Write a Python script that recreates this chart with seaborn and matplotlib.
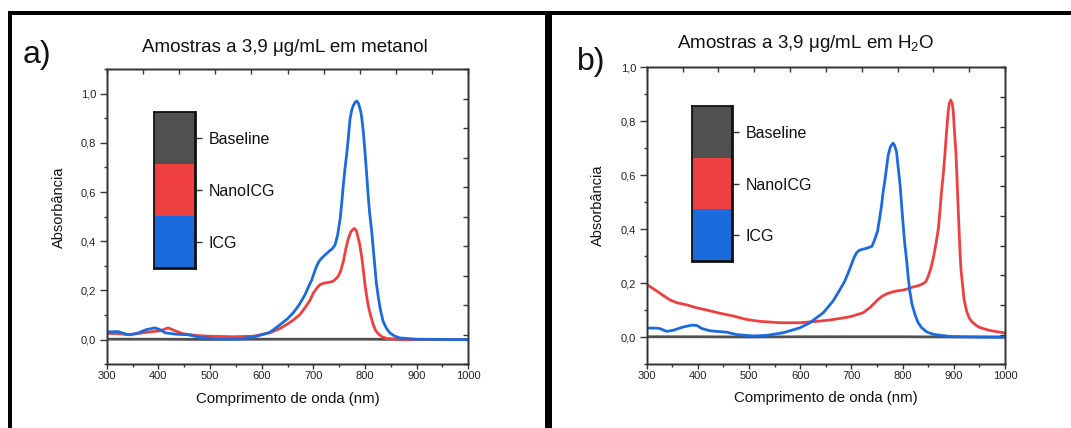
import numpy as np
import pandas as pd
import matplotlib
matplotlib.use("Agg")
import matplotlib.pyplot as plt
from matplotlib.ticker import MultipleLocator, FuncFormatter, FixedLocator, NullFormatter
from matplotlib.patches import Rectangle
import seaborn as sns

# ---------------------------------------------------------------- data
SERIES = ["Baseline", "NanoICG", "ICG"]
COLORS = {"Baseline": "#505050", "NanoICG": "#EE4040", "ICG": "#1B6BDE"}

# baseline (solvent) reading, essentially flat at zero
base_wl = [300, 400, 500, 600, 700, 800, 900, 1000]
base_a = [0.002, 0.002, 0.001, 0.002, 0.002, 0.002, 0.001, 0.001]

# (a) methanol
a_icg_wl = [300, 310, 322, 329, 342, 358, 377, 393, 403, 413, 435, 458, 481, 513,
            558, 590, 616, 635, 650, 661, 672, 684, 690, 697, 701, 706, 711, 716,
            722, 732, 737, 742, 747, 752, 755, 758, 761, 765, 768, 771, 774, 777,
            781, 784, 787, 790, 792, 794, 797, 800, 803, 806, 809, 813, 816, 819,
            822, 826, 830, 835, 841, 848, 857, 868, 900, 950, 1000]
a_icg_a = [0.032, 0.032, 0.033, 0.028, 0.020, 0.025, 0.041, 0.048, 0.041, 0.028,
           0.022, 0.020, 0.009, 0.003, 0.003, 0.014, 0.030, 0.060, 0.085, 0.109,
           0.140, 0.183, 0.212, 0.243, 0.268, 0.297, 0.318, 0.331, 0.343, 0.362,
           0.370, 0.385, 0.425, 0.492, 0.555, 0.627, 0.690, 0.762, 0.825, 0.897,
           0.930, 0.950, 0.965, 0.970, 0.962, 0.941, 0.925, 0.897, 0.840, 0.762,
           0.680, 0.590, 0.515, 0.440, 0.370, 0.300, 0.230, 0.170, 0.120, 0.075,
           0.048, 0.028, 0.015, 0.007, 0.002, 0.001, 0.000]

a_nano_wl = [300, 322, 342, 377, 403, 419, 429, 448, 474, 500, 545, 584, 616, 635,
             648, 660, 674, 684, 694, 700, 707, 712, 719, 727, 736, 740, 748, 753,
             758, 763, 768, 773, 779, 783, 787, 790, 794, 797, 800, 803, 806, 810,
             816, 820, 826, 833, 842, 870, 1000]
a_nano_a = [0.025, 0.025, 0.020, 0.030, 0.036, 0.048, 0.039, 0.024, 0.017, 0.014,
            0.012, 0.014, 0.028, 0.045, 0.061, 0.078, 0.102, 0.130, 0.162, 0.190,
            0.210, 0.222, 0.229, 0.232, 0.236, 0.240, 0.257, 0.280, 0.317, 0.370,
            0.412, 0.440, 0.452, 0.445, 0.412, 0.385, 0.331, 0.280, 0.224, 0.180,
            0.142, 0.105, 0.061, 0.040, 0.023, 0.012, 0.005, 0.001, 0.000]

# (b) water
b_icg_wl = [300, 320, 326, 339, 352, 371, 388, 398, 407, 424, 456, 476, 508, 534,
            567, 599, 619, 645, 664, 677, 687, 695, 700, 705, 710, 715, 720, 730,
            740, 745, 751, 755, 759, 762, 766, 769, 772, 776, 781, 784, 788, 791,
            795, 798, 801, 804, 808, 811, 814, 818, 824, 830, 837, 847, 860, 893,
            950, 1000]
b_icg_a = [0.034, 0.034, 0.032, 0.022, 0.026, 0.038, 0.045, 0.044, 0.033, 0.024,
           0.019, 0.010, 0.005, 0.007, 0.017, 0.035, 0.054, 0.091, 0.134, 0.175,
           0.208, 0.245, 0.270, 0.295, 0.313, 0.322, 0.325, 0.330, 0.337, 0.360,
           0.393, 0.440, 0.491, 0.540, 0.590, 0.635, 0.676, 0.705, 0.719, 0.712,
           0.688, 0.635, 0.565, 0.490, 0.417, 0.350, 0.282, 0.220, 0.171, 0.125,
           0.085, 0.055, 0.036, 0.020, 0.011, 0.003, 0.001, 0.000]

b_nano_wl = [300, 320, 332, 346, 359, 378, 398, 417, 443, 469, 495, 521, 560, 600,
             638, 658, 678, 697, 723, 736, 744, 752, 760, 769, 782, 790, 801, 811,
             821, 829, 837, 845, 850, 855, 860, 865, 870, 873, 876, 880, 883, 886,
             889, 891, 894, 897, 899, 901, 904, 906, 908, 910, 912, 914, 917, 920,
             925, 930, 935, 943, 951, 965, 977, 1000]
b_nano_a = [0.196, 0.171, 0.155, 0.138, 0.128, 0.120, 0.109, 0.101, 0.089, 0.079,
            0.066, 0.059, 0.054, 0.054, 0.060, 0.064, 0.070, 0.076, 0.091, 0.110,
            0.125, 0.140, 0.152, 0.161, 0.169, 0.172, 0.175, 0.180, 0.187, 0.190,
            0.196, 0.205, 0.226, 0.255, 0.294, 0.345, 0.405, 0.470, 0.540, 0.615,
            0.688, 0.765, 0.836, 0.865, 0.879, 0.865, 0.836, 0.770, 0.688, 0.600,
            0.503, 0.410, 0.319, 0.250, 0.196, 0.140, 0.097, 0.072, 0.058, 0.045,
            0.036, 0.028, 0.023, 0.016]

X_TICKS = [300, 400, 500, 600, 700, 800, 900, 1000]
TITLE_A = "Amostras a 3,9 μg/mL em metanol"
TITLE_B = "Amostras a 3,9 μg/mL em H$_2$O"
X_LABEL = "Comprimento de onda (nm)"
Y_LABEL = "Absorbância"

# ---------------------------------------------------------------- style
sns.set_style("white")
plt.rcParams["font.family"] = ["Liberation Sans", "DejaVu Sans"]
plt.rcParams["mathtext.fontset"] = "custom"
plt.rcParams["mathtext.rm"] = "Liberation Sans"
plt.rcParams["mathtext.it"] = "Liberation Sans:italic"
plt.rcParams["text.color"] = "#111111"

W, H = 1071, 428
fig = plt.figure(figsize=(W / 100, H / 100), dpi=100)


def px_box(x0, y0, x1, y1):
    return [x0 / W, 1 - y1 / H, (x1 - x0) / W, (y1 - y0) / H]


def comma(v, _pos):
    return f"{v:.1f}".replace(".", ",")


def draw_panel(rect, curves, ylim, leg_rect):
    ax = fig.add_axes(px_box(*rect))
    frames = [pd.DataFrame({"wl": w, "A": a, "amostra": n}) for n, (w, a) in curves.items()]
    df = pd.concat(frames, ignore_index=True)
    sns.lineplot(data=df, x="wl", y="A", hue="amostra", hue_order=SERIES,
                 palette=COLORS, sort=False, estimator=None, linewidth=2.0,
                 legend=False, ax=ax, solid_joinstyle="round", solid_capstyle="round")
    ax.set_xlim(300, 1000)
    ax.set_ylim(*ylim)
    ax.set_xlabel("")
    ax.set_ylabel("")
    ax.xaxis.set_major_locator(FixedLocator(X_TICKS))
    ax.xaxis.set_minor_locator(MultipleLocator(50))
    ax.yaxis.set_major_locator(MultipleLocator(0.2))
    ax.yaxis.set_minor_locator(MultipleLocator(0.1))
    ax.yaxis.set_major_formatter(FuncFormatter(comma))
    for s in ax.spines.values():
        s.set_linewidth(1.0)
        s.set_color("#333333")
    ax.tick_params(axis="both", which="both", direction="out", colors="#333333",
                   labelcolor="#222222", labelsize=8, top=False, right=False,
                   bottom=True, left=True, width=1.0)
    ax.tick_params(axis="y", which="major", length=5, pad=2.5)
    ax.tick_params(axis="y", which="minor", length=2.5)
    ax.tick_params(axis="x", which="major", length=3.5, pad=1.5)
    ax.tick_params(axis="x", which="minor", length=2.5)

    # inward ticks along top and right edges
    top = ax.twiny()
    top.set_xlim(0, 1)
    top.xaxis.set_major_locator(MultipleLocator(0.1))
    top.xaxis.set_major_formatter(NullFormatter())
    top.tick_params(axis="x", direction="in", length=3.5, width=1.0, colors="#333333")
    right = ax.twinx()
    right.set_ylim(0, 1)
    right.yaxis.set_major_locator(MultipleLocator(0.1))
    right.yaxis.set_major_formatter(NullFormatter())
    right.tick_params(axis="y", direction="in", length=3.5, width=1.0, colors="#333333")
    for t in (top, right):
        for s in t.spines.values():
            s.set_linewidth(1.0)
            s.set_color("#333333")

    # colour-block key
    lax = fig.add_axes(px_box(*leg_rect))
    for i, name in enumerate(SERIES):
        lax.bar(0, 1, bottom=i, width=1, color=COLORS[name], linewidth=0)
    lax.set_xlim(-0.5, 0.5)
    lax.set_ylim(len(SERIES), 0)
    lax.set_xticks([])
    lax.set_yticks([i + 0.5 for i in range(len(SERIES))])
    lax.set_yticklabels(SERIES, fontsize=11.5)
    lax.yaxis.tick_right()
    lax.tick_params(axis="y", direction="out", length=5, width=1.0, pad=5,
                    colors="#333333", labelcolor="#111111")
    for side, s in lax.spines.items():
        s.set_linewidth(2.0 if side in ("right", "bottom") else 1.3)
        s.set_color("#111111")
    return ax


draw_panel((106.7, 69, 468.3, 364.3),
           {"Baseline": (base_wl, base_a), "NanoICG": (a_nano_wl, a_nano_a),
            "ICG": (a_icg_wl, a_icg_a)},
           (-0.1, 1.1), (154.3, 112.3, 195, 268.3))
draw_panel((646.7, 67.3, 1005, 364.3),
           {"Baseline": (base_wl, base_a), "NanoICG": (b_nano_wl, b_nano_a),
            "ICG": (b_icg_wl, b_icg_a)},
           (-0.1, 1.0), (691.7, 106, 731.7, 261))


def ftext(x, y, s, **kw):
    fig.text(x / W, 1 - y / H, s, **kw)


ftext(285, 52.3, TITLE_A, fontsize=13.5, ha="center", va="baseline")
ftext(806, 48.3, TITLE_B, fontsize=13.5, ha="center", va="baseline")
ftext(22.4, 63.3, "a)", fontsize=23, ha="left", va="baseline")
ftext(577.3, 70, "b)", fontsize=23, ha="left", va="baseline")
ftext(58.5, 207.6, Y_LABEL, fontsize=10.5, rotation=90, ha="center", va="center")
ftext(598.4, 205, Y_LABEL, fontsize=10.5, rotation=90, ha="center", va="center")
ftext(288, 399, X_LABEL, fontsize=10.8, ha="center", va="center")
ftext(825.7, 398, X_LABEL, fontsize=10.8, ha="center", va="center")

# black panel frame
for x0, y0, x1, y1 in [(7.6, 11.3, W, 15.0), (7.6, 11.3, 11.8, H), (545, 11.3, 552, H)]:
    fig.add_artist(Rectangle((x0 / W, 1 - y1 / H), (x1 - x0) / W, (y1 - y0) / H,
                             transform=fig.transFigure, color="black", lw=0))

fig.savefig("out.png", dpi=100)
